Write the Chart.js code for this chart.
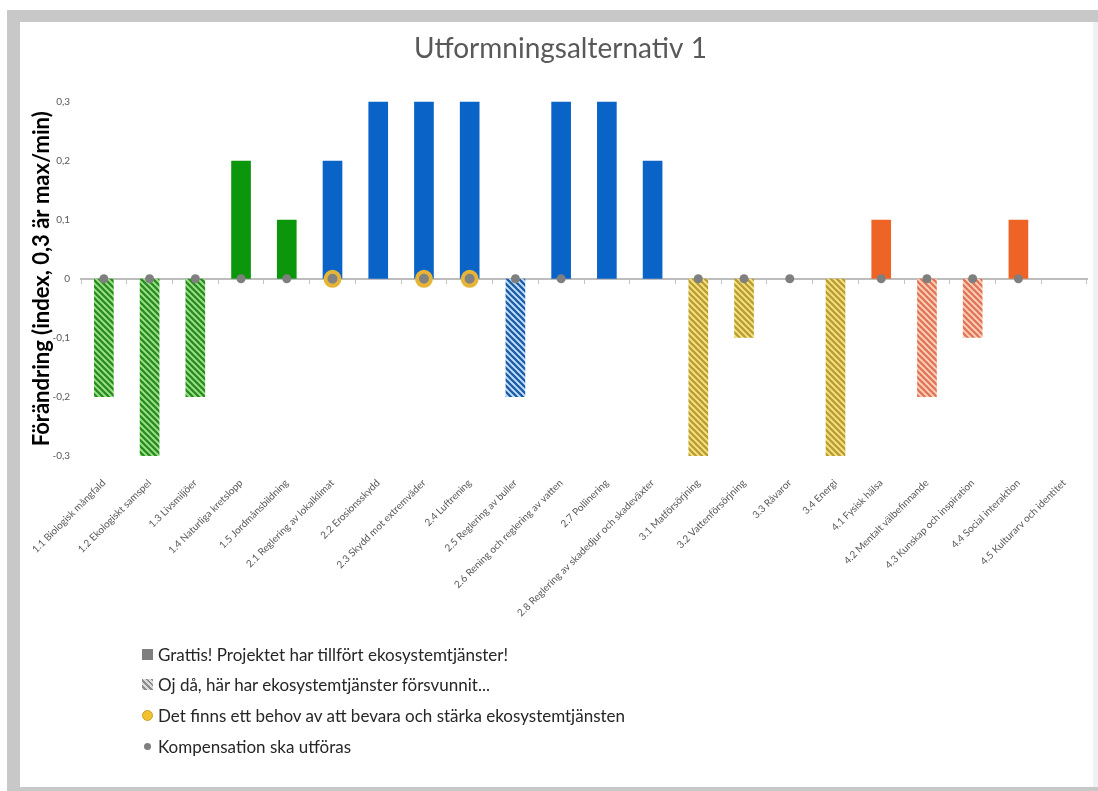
<!DOCTYPE html>
<html><head><meta charset="utf-8">
<script src="https://cdn.jsdelivr.net/npm/chart.js@4.4.1/dist/chart.umd.min.js"></script>
<style>
html,body{margin:0;padding:0;background:#fff;width:1098px;height:791px;overflow:hidden;font-family:Lato, sans-serif;}
#frame{position:absolute;left:7px;top:10px;width:1091px;height:781px;background:#c8c8c8;}
#inner{position:absolute;left:20px;top:22px;width:1073px;height:765px;background:#fff;}
#rightEdge{position:absolute;left:1093px;top:22px;width:5px;height:765px;background:#f1f1f1;}
#c{position:absolute;left:0;top:0;}
#legend{position:absolute;left:142px;top:639px;font-size:17px;color:#262626;font-family:Lato, sans-serif;}
.item{height:30.6px;display:flex;align-items:center;white-space:nowrap;}
.icon{display:inline-block;margin-right:5px;flex:none;}
</style></head><body>
<div id="frame"></div><div id="inner"></div><div id="rightEdge"></div>
<canvas id="c" width="1098" height="791"></canvas>
<div id="legend"></div>
<script>
const categories = ['1.1 Biologisk mångfald','1.2 Ekologiskt samspel','1.3 Livsmiljöer','1.4 Naturliga kretslopp','1.5 Jordmånsbildning','2.1 Reglering av lokalklimat','2.2 Erosionsskydd','2.3 Skydd mot extremväder','2.4 Luftrening','2.5 Reglering av buller','2.6 Rening och reglering av vatten','2.7 Pollinering','2.8 Reglering av skadedjur och skadeväxter','3.1 Matförsörjning','3.2 Vattenförsörjning','3.3 Råvaror','3.4 Energi','4.1 Fysisk hälsa','4.2 Mentalt välbefinnande','4.3 Kunskap och inspiration','4.4 Social interaktion','4.5 Kulturarv och identitet'];
const gainValues = [null,null,null,0.2,0.1,0.2,0.3,0.3,0.3,null,0.3,0.3,0.2,null,null,null,null,0.1,null,null,0.1,null];
const lossValues = [-0.2,-0.3,-0.2,null,null,null,null,null,null,-0.2,null,null,null,-0.3,-0.1,null,-0.3,null,-0.2,-0.1,null,null];
const preserveMarks = [null,null,null,null,null,0,null,0,0,null,null,null,null,null,null,null,null,null,null,null,null,null];
const compensationMarks = [0,0,0,0,0,null,null,null,null,0,0,null,null,0,0,0,null,0,0,0,0,null];
const yTickLabels = ['-0,3','-0,2','-0,1','0','0,1','0,2','0,3'];
const seriesLabels = ['Grattis! Projektet har tillfört ekosystemtjänster!','Oj då, här har ekosystemtjänster försvunnit...','Det finns ett behov av att bevara och stärka ekosystemtjänsten','Kompensation ska utföras'];

const canvas = document.getElementById('c');
const ctx = canvas.getContext('2d');
function stripes(bg, fg){
  const p=document.createElement('canvas'); p.width=6; p.height=6;
  const g=p.getContext('2d'); g.fillStyle=bg; g.fillRect(0,0,6,6);
  g.strokeStyle=fg; g.lineWidth=2.3;
  g.beginPath();
  for(const k of [-6,0,6]){ g.moveTo(k-1,-1); g.lineTo(k+7,7); }
  g.stroke();
  return ctx.createPattern(p,'repeat');
}
const solidColors = {'1':'#0b960b','2':'#0a64c8','3':'#e8c040','4':'#ee6427'};
const hatchFills = {
  '1':stripes('#9ee47f','#2a8a2a'),
  '2':stripes('#c4e2fb','#1e5ea6'),
  '3':stripes('#f8e47a','#b89c3a'),
  '4':stripes('#fdd2bd','#e07657')
};
const group = c => c.charAt(0);
const font = 'Lato, sans-serif';

const chart = new Chart(ctx, {
  data: {
    labels: categories,
    datasets: [
      {type:'line', label:seriesLabels[2], data:preserveMarks, showLine:false, pointRadius:7, pointBackgroundColor:'#828282', pointBorderColor:'#e6b537', pointBorderWidth:4, order:0},
      {type:'line', label:seriesLabels[3], data:compensationMarks, showLine:false, pointRadius:4.5, pointBackgroundColor:'#7f7f7f', pointBorderWidth:0, order:0},
      {type:'bar', label:seriesLabels[0], data:gainValues, backgroundColor:categories.map(c=>solidColors[group(c)]), grouped:false, categoryPercentage:1, barPercentage:0.43, order:1},
      {type:'bar', label:seriesLabels[1], data:lossValues, backgroundColor:categories.map(c=>hatchFills[group(c)]), grouped:false, categoryPercentage:1, barPercentage:0.43, order:1}
    ]
  },
  options: {
    responsive:false, animation:false, devicePixelRatio:1, events:[],
    layout:{padding:{top:20,left:28,right:5,bottom:0}},
    plugins:{
      legend:{display:false}, tooltip:{enabled:false},
      title:{display:true, text:'Utformningsalternativ 1', color:'#595959', font:{family:font, size:28, weight:'normal'}, padding:{top:12,bottom:36}}
    },
    scales:{
      x:{type:'category', offset:true, grid:{display:false}, border:{display:false},
         ticks:{autoSkip:false, minRotation:45, maxRotation:45, padding:13, color:'#595959', font:{family:font, size:10}},
         afterFit(s){ s.height = 335; }},
      x2:{type:'category', labels:categories, position:{y:0}, offset:true,
          grid:{offset:true, drawOnChartArea:false, drawTicks:true, tickLength:4, color:'#c4c4c4'},
          border:{display:true, color:'#bdbdbd', width:2}, ticks:{display:false}},
      y:{min:-0.3, max:0.3,
         ticks:{stepSize:0.1, padding:11, color:'#595959', font:{family:font, size:10},
                callback(v){ return yTickLabels[Math.round(v*10)+3]; }},
         grid:{display:false, drawTicks:false}, border:{display:false},
         title:{display:true, text:'Förändring (index, 0,3 är max/min)', color:'#000', font:{family:font, size:22, weight:'bold'}, padding:{top:1,bottom:0}},
         afterFit(s){ s.width = 53; }}
    }
  }
});

// legend
const legend = document.getElementById('legend');
function iconFor(i){
  const el = document.createElement('span'); el.className='icon';
  if(i===0){ el.style.cssText+='width:11px;height:11px;background:#7f7f7f;'; }
  else if(i===1){ el.style.cssText+='width:11px;height:11px;background:repeating-linear-gradient(45deg,#dcdcdc 0 2px,#8c8c8c 2px 4px);'; }
  else if(i===2){ el.style.cssText+='width:9px;height:9px;border-radius:50%;background:#f2c12e;border:1.5px solid #c9a030;'; }
  else { el.style.cssText+='width:7px;height:7px;border-radius:50%;background:#7f7f7f;margin-left:2px;margin-right:7px;'; }
  return el;
}
seriesLabels.forEach((t,i)=>{
  const row=document.createElement('div'); row.className='item';
  row.appendChild(iconFor(i));
  const s=document.createElement('span'); s.textContent=t; row.appendChild(s);
  legend.appendChild(row);
});
</script>
</body></html>
